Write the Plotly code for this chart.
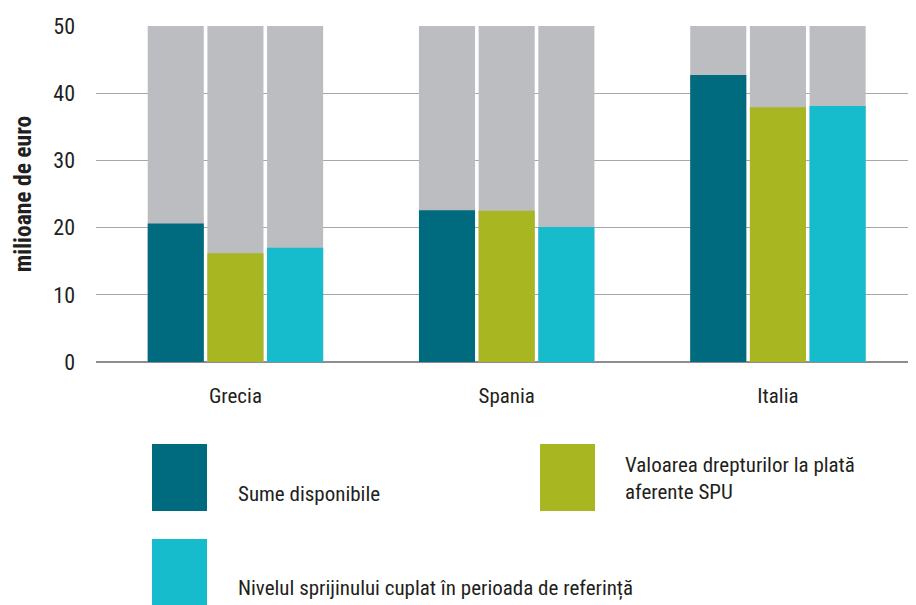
import plotly.graph_objects as go

categories = ["Grecia", "Spania", "Italia"]
series_names = [
    "Sume disponibile",
    "Valoarea drepturilor la plată<br>aferente SPU",
    "Nivelul sprijinului cuplat în perioada de referință",
]
sume_disponibile = [20.6, 22.6, 42.7]
valoarea_drepturilor = [16.2, 22.5, 37.9]
nivelul_sprijinului = [17.0, 20.1, 38.1]
plafon = [50, 50, 50]
y_ticks = [0, 10, 20, 30, 40, 50]

colors = ["#006a7f", "#a8b621", "#16bbcc"]
gray = "#bcbdc1"
FONT = "Liberation Sans Narrow, Roboto Condensed, Arial Narrow, sans-serif"
TXT = "#231f20"

OFF = 8  # page body margin
W, H = 916 - OFF, 605 - OFF
L, R, T, B = 96 - OFF, 0, 26 - OFF, 605 - 362
pw, ph = W - L - R, H - T - B

def px(x):
    return (x - OFF - L) / pw

def py(y):
    return (H - B - (y - OFF)) / ph

fig = go.Figure()
series = [sume_disponibile, valoarea_drepturilor, nivelul_sprijinului]
for i, (vals, col) in enumerate(zip(series, colors)):
    fig.add_trace(go.Bar(x=categories, y=plafon, marker=dict(color=gray, line=dict(width=0)),
                         offsetgroup=str(i), showlegend=False, hoverinfo="skip"))
    fig.add_trace(go.Bar(x=categories, y=vals, marker=dict(color=col, line=dict(width=0)),
                         offsetgroup=str(i), name=series_names[i], showlegend=False))

fig.update_layout(
    width=W, height=H,
    margin=dict(l=L, r=R, t=T, b=B),
    paper_bgcolor="white", plot_bgcolor="white",
    barmode="group", bargap=0.34, bargroupgap=0.06,
    font=dict(family=FONT, color=TXT, size=22),
    showlegend=False,
)
fig.update_xaxes(range=[-0.514, 2.509], showgrid=False, showline=False, ticks="",
                 tickfont=dict(size=21), ticklabelstandoff=19)
fig.update_yaxes(range=[0, 50], tickvals=y_ticks, showgrid=True, gridcolor="#a7a7a9", gridwidth=1.2,
                 zeroline=True, zerolinecolor="#8d8d8f", zerolinewidth=1.5, showline=False,
                 tickfont=dict(size=22), ticklabelstandoff=20,
                 title=dict(text="<b>milioane de euro</b>", font=dict(size=23.5, family=FONT), standoff=15))

# legend boxes (drawn manually to match reference layout)
boxes = [(152, 444), (540, 444), (152, 539)]
texts = [(236, 494), (623, 478), (236, 588)]
for i in range(3):
    bx, by = boxes[i]
    fig.add_shape(type="rect", xref="paper", yref="paper",
                  x0=px(bx), x1=px(bx + 55), y0=py(by), y1=py(by + 67),
                  fillcolor=colors[i], line=dict(width=0))
    tx, ty = texts[i]
    fig.add_annotation(xref="paper", yref="paper", x=px(tx), y=py(ty), xanchor="left",
                       yanchor="middle", text=series_names[i], showarrow=False, align="left",
                       font=dict(size=21, color=TXT, family=FONT))

fig.write_html("out.html")
